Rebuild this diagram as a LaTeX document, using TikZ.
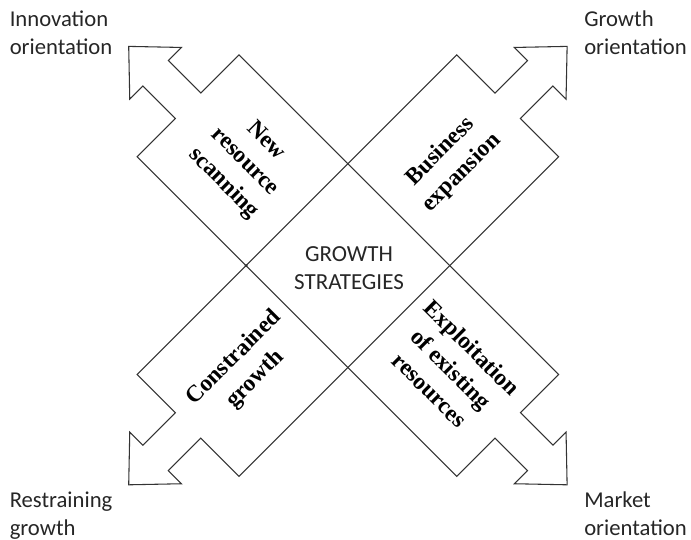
\documentclass[tikz,border=0pt]{standalone}
\usepackage{fontspec}
\setmainfont{Carlito}
\newfontfamily\labelserif{Liberation Serif}
\begin{document}
\begin{tikzpicture}[x=0.75pt,y=0.75pt,
  strip/.style={draw=black!80, line width=0.8pt, line join=miter},
  armlabel/.style={font=\labelserif\bfseries\fontsize{17.6}{22.5}\selectfont, align=center, inner sep=0pt},
  corner/.style={font=\fontsize{17}{21}\selectfont, inner sep=0pt, text=black!85},
  centerlabel/.style={font=\fontsize{17.25}{21}\selectfont, align=center, text=black!85, inner sep=0pt}]
\useasboundingbox (0,0) rectangle (691,539);
\coordinate (C) at (347.9,273.4);
\begin{scope}[shift={(C)}]
  \foreach \a in {-45,45}
    \draw[strip, rotate=\a] (310,0) -- (272,36.5) -- (272,18) -- (226,18) -- (226,72)
      -- (-226,72) -- (-226,18) -- (-272,18) -- (-272,36.5) -- (-310,0)
      -- (-272,-36.5) -- (-272,-18) -- (-226,-18) -- (-226,-72) -- (226,-72)
      -- (226,-18) -- (272,-18) -- (272,-36.5) -- cycle;
  \coordinate (lv) at (-101.8,0);
  \fill[black!80] (lv) circle (1.6);
  \node[armlabel, rotate=-45] (nrs) at (135:146) {New\\resource\\scanning};
  \node[armlabel, rotate=45] (be) at (45:146) {Business\\expansion};
  \node[armlabel, rotate=45] (cg) at (225:146) {Constrained\\growth};
  \node[armlabel, rotate=-45] (eer) at (-45:146) {Exploitation\\of existing\\resources};
\end{scope}
\node[centerlabel] (gs) at (349,271) {GROWTH\\STRATEGIES};
\renewcommand\arraystretch{1}
\node[corner, anchor=base west] (io) at (9.5,512.5) {\begin{tabular}[t]{@{}l@{}}Innovation\\orientation\end{tabular}};
\node[corner, anchor=base west] (go) at (584,512.5) {\begin{tabular}[t]{@{}l@{}}Growth\\orientation\end{tabular}};
\node[corner, anchor=base west] (rg) at (9.5,32) {\begin{tabular}[t]{@{}l@{}}Restraining\\growth\end{tabular}};
\node[corner, anchor=base west] (mo) at (584,32) {\begin{tabular}[t]{@{}l@{}}Market\\orientation\end{tabular}};
\end{tikzpicture}
\end{document}
